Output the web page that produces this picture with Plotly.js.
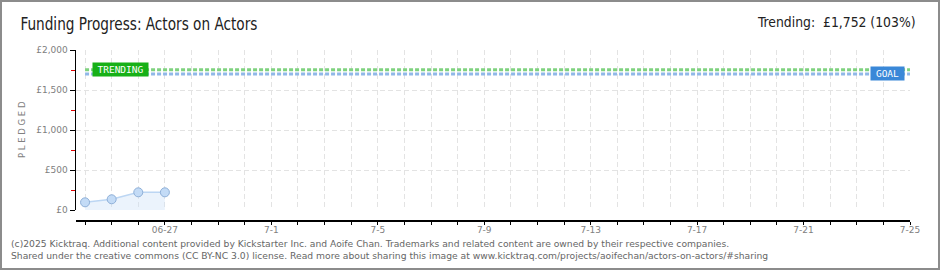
<!DOCTYPE html>
<html>
<head>
<meta charset="utf-8">
<script src="https://cdn.plot.ly/plotly-3.0.1.min.js"></script>
<style>
html,body{margin:0;padding:0;background:#fff;}
#wrap{position:relative;width:940px;height:270px;}
#chart{width:940px;height:270px;}
#frame{position:absolute;left:0;top:0;width:936px;height:266px;border:2px solid #8c8c8c;pointer-events:none;}
</style>
</head>
<body>
<div id="wrap"><div id="chart"></div><div id="frame"></div></div>
<script>
// ---- data ----
const pledgeDates = ['2025-06-24', '2025-06-25', '2025-06-26', '2025-06-27'];
const pledgeValues = [96, 134, 221, 221];
const lineDates = ['2025-06-24', '2025-07-25'];
const goalValue = 1700;
const trendingValue = 1752;
const xTickDates = ['2025-06-27', '2025-07-01', '2025-07-05', '2025-07-09', '2025-07-13', '2025-07-17', '2025-07-21', '2025-07-25'];
const xTickLabels = ['06-27', '7-1', '7-5', '7-9', '7-13', '7-17', '7-21', '7-25'];
const yTickValues = [0, 500, 1000, 1500, 2000];
const yTickLabels = ['£0', '£500', '£1,000', '£1,500', '£2,000'];
const titleText = 'Funding Progress: Actors on Actors';
const trendText = 'Trending:  £1,752 (103%)';
const footer1 = '(c)2025 Kicktraq. Additional content provided by Kickstarter Inc. and Aoife Chan. Trademarks and related content are owned by their respective companies.';
const footer2 = 'Shared under the creative commons (CC BY-NC 3.0) license. Read more about sharing this image at www.kicktraq.com/projects/aoifechan/actors-on-actors/#sharing';

// ---- layout helpers (pixel -> paper) ----
const L = 76, R = 910, T = 50, B = 220;
const px = x => (x - L) / (R - L);
const py = y => (B - y) / (B - T);

const titleFont = 'Liberation Sans Narrow, DejaVu Sans Condensed, Liberation Sans, sans-serif';
const tickFont = {family: 'DejaVu Sans, sans-serif', size: 9, color: '#808080'};

// target text width (px) for the narrow title font
const TITLE_W = 237;

const traces = [
  {x: lineDates, y: [goalValue, goalValue], mode: 'lines', hoverinfo: 'skip',
   line: {color: '#90b8e8', width: 3, dash: '4px,2px'}},
  {x: lineDates, y: [trendingValue, trendingValue], mode: 'lines', hoverinfo: 'skip',
   line: {color: '#7fd27f', width: 3, dash: '4px,2px'}},
  {x: pledgeDates, y: pledgeValues, mode: 'lines+markers', fill: 'tozeroy',
   fillcolor: 'rgba(205,225,248,0.4)',
   line: {color: '#bcd6f3', width: 1.5},
   marker: {size: 9, color: '#c3dbf6', line: {color: '#8fb0d8', width: 1}}}
];

const layout = {
  width: 940, height: 270,
  margin: {l: L, r: 940 - R, t: T, b: 270 - B},
  paper_bgcolor: '#fff', plot_bgcolor: '#fff',
  showlegend: false,
  xaxis: {
    type: 'date',
    range: ['2025-06-23 15:50', '2025-07-25'],
    anchor: 'free', position: 0,
    showline: true, linecolor: '#000', linewidth: 1.5,
    tickmode: 'array', tickvals: xTickDates, ticktext: xTickLabels,
    ticks: 'outside', ticklen: 3, tickcolor: '#000', tickwidth: 1,
    ticklabelstandoff: -2,
    tickfont: tickFont,
    showgrid: true, gridcolor: '#e3e3e3', griddash: '5px,3px', gridwidth: 1,
    minor: {dtick: 86400000, tick0: '2025-06-24', ticks: 'outside', ticklen: 3, tickcolor: '#000',
            showgrid: true, gridcolor: '#e3e3e3', griddash: '5px,3px', gridwidth: 1},
    zeroline: false, fixedrange: true
  },
  yaxis: {
    domain: [10 / 170, 1],
    range: [0, 2000],
    showline: true, linecolor: '#000', linewidth: 1.5,
    tickmode: 'array', tickvals: yTickValues, ticktext: yTickLabels,
    ticks: 'outside', ticklen: 5, tickcolor: '#000',
    tickfont: tickFont,
    showgrid: true, gridcolor: '#e3e3e3', griddash: '5px,3px',
    minor: {dtick: 250, tick0: 0, ticks: 'outside', ticklen: 4, tickcolor: '#e00000', showgrid: false},
    zeroline: false, fixedrange: true
  },
  annotations: [
    {xref: 'paper', yref: 'paper', x: px(20 + TITLE_W / 2), y: py(24), xanchor: 'center', yanchor: 'middle',
     text: titleText, showarrow: false, font: {family: titleFont, size: 17, color: '#222'}},
    {xref: 'paper', yref: 'paper', x: px(918), y: py(22), xanchor: 'right', yanchor: 'middle',
     text: trendText, showarrow: false, font: {family: titleFont, size: 13.8, color: '#222'}},
    {xref: 'paper', yref: 'paper', x: px(22), y: py(130), xanchor: 'center', yanchor: 'middle',
     text: 'P L E D G E D', textangle: -90, showarrow: false,
     font: {family: 'DejaVu Sans, sans-serif', size: 8.5, color: '#808080'}},
    {xref: 'paper', yref: 'paper', x: px(120.5), y: py(69.5), xanchor: 'center', yanchor: 'middle',
     text: 'TRENDING', showarrow: false, bgcolor: '#17b017', width: 53, height: 11, borderpad: 1,
     font: {family: 'DejaVu Sans Mono, monospace', size: 9.5, color: '#fff'}},
    {xref: 'paper', yref: 'paper', x: px(887.5), y: py(73.5), xanchor: 'center', yanchor: 'middle',
     text: 'GOAL', showarrow: false, bgcolor: '#3a88d8', width: 31, height: 11, borderpad: 1,
     font: {family: 'DejaVu Sans Mono, monospace', size: 9.5, color: '#fff'}},
    {xref: 'paper', yref: 'paper', x: px(9), y: py(243), xanchor: 'left', yanchor: 'middle',
     text: footer1, showarrow: false, font: {family: 'DejaVu Sans, sans-serif', size: 9.2, color: '#666'}},
    {xref: 'paper', yref: 'paper', x: px(9), y: py(256), xanchor: 'left', yanchor: 'middle',
     text: footer2, showarrow: false, font: {family: 'DejaVu Sans, sans-serif', size: 9.2, color: '#666'}}
  ]
};

Plotly.newPlot('chart', traces, layout, {displayModeBar: false, staticPlot: true}).then(gd => {
  // condense the title to the narrow width seen in the reference
  gd.querySelectorAll('.annotation-text').forEach(t => {
    if (t.textContent === titleText) {
      const bb = t.getBBox();
      if (bb.width > TITLE_W) {
        t.setAttribute('textLength', TITLE_W);
        t.setAttribute('lengthAdjust', 'spacingAndGlyphs');
      }
    }
  });
});
</script>
</body>
</html>
